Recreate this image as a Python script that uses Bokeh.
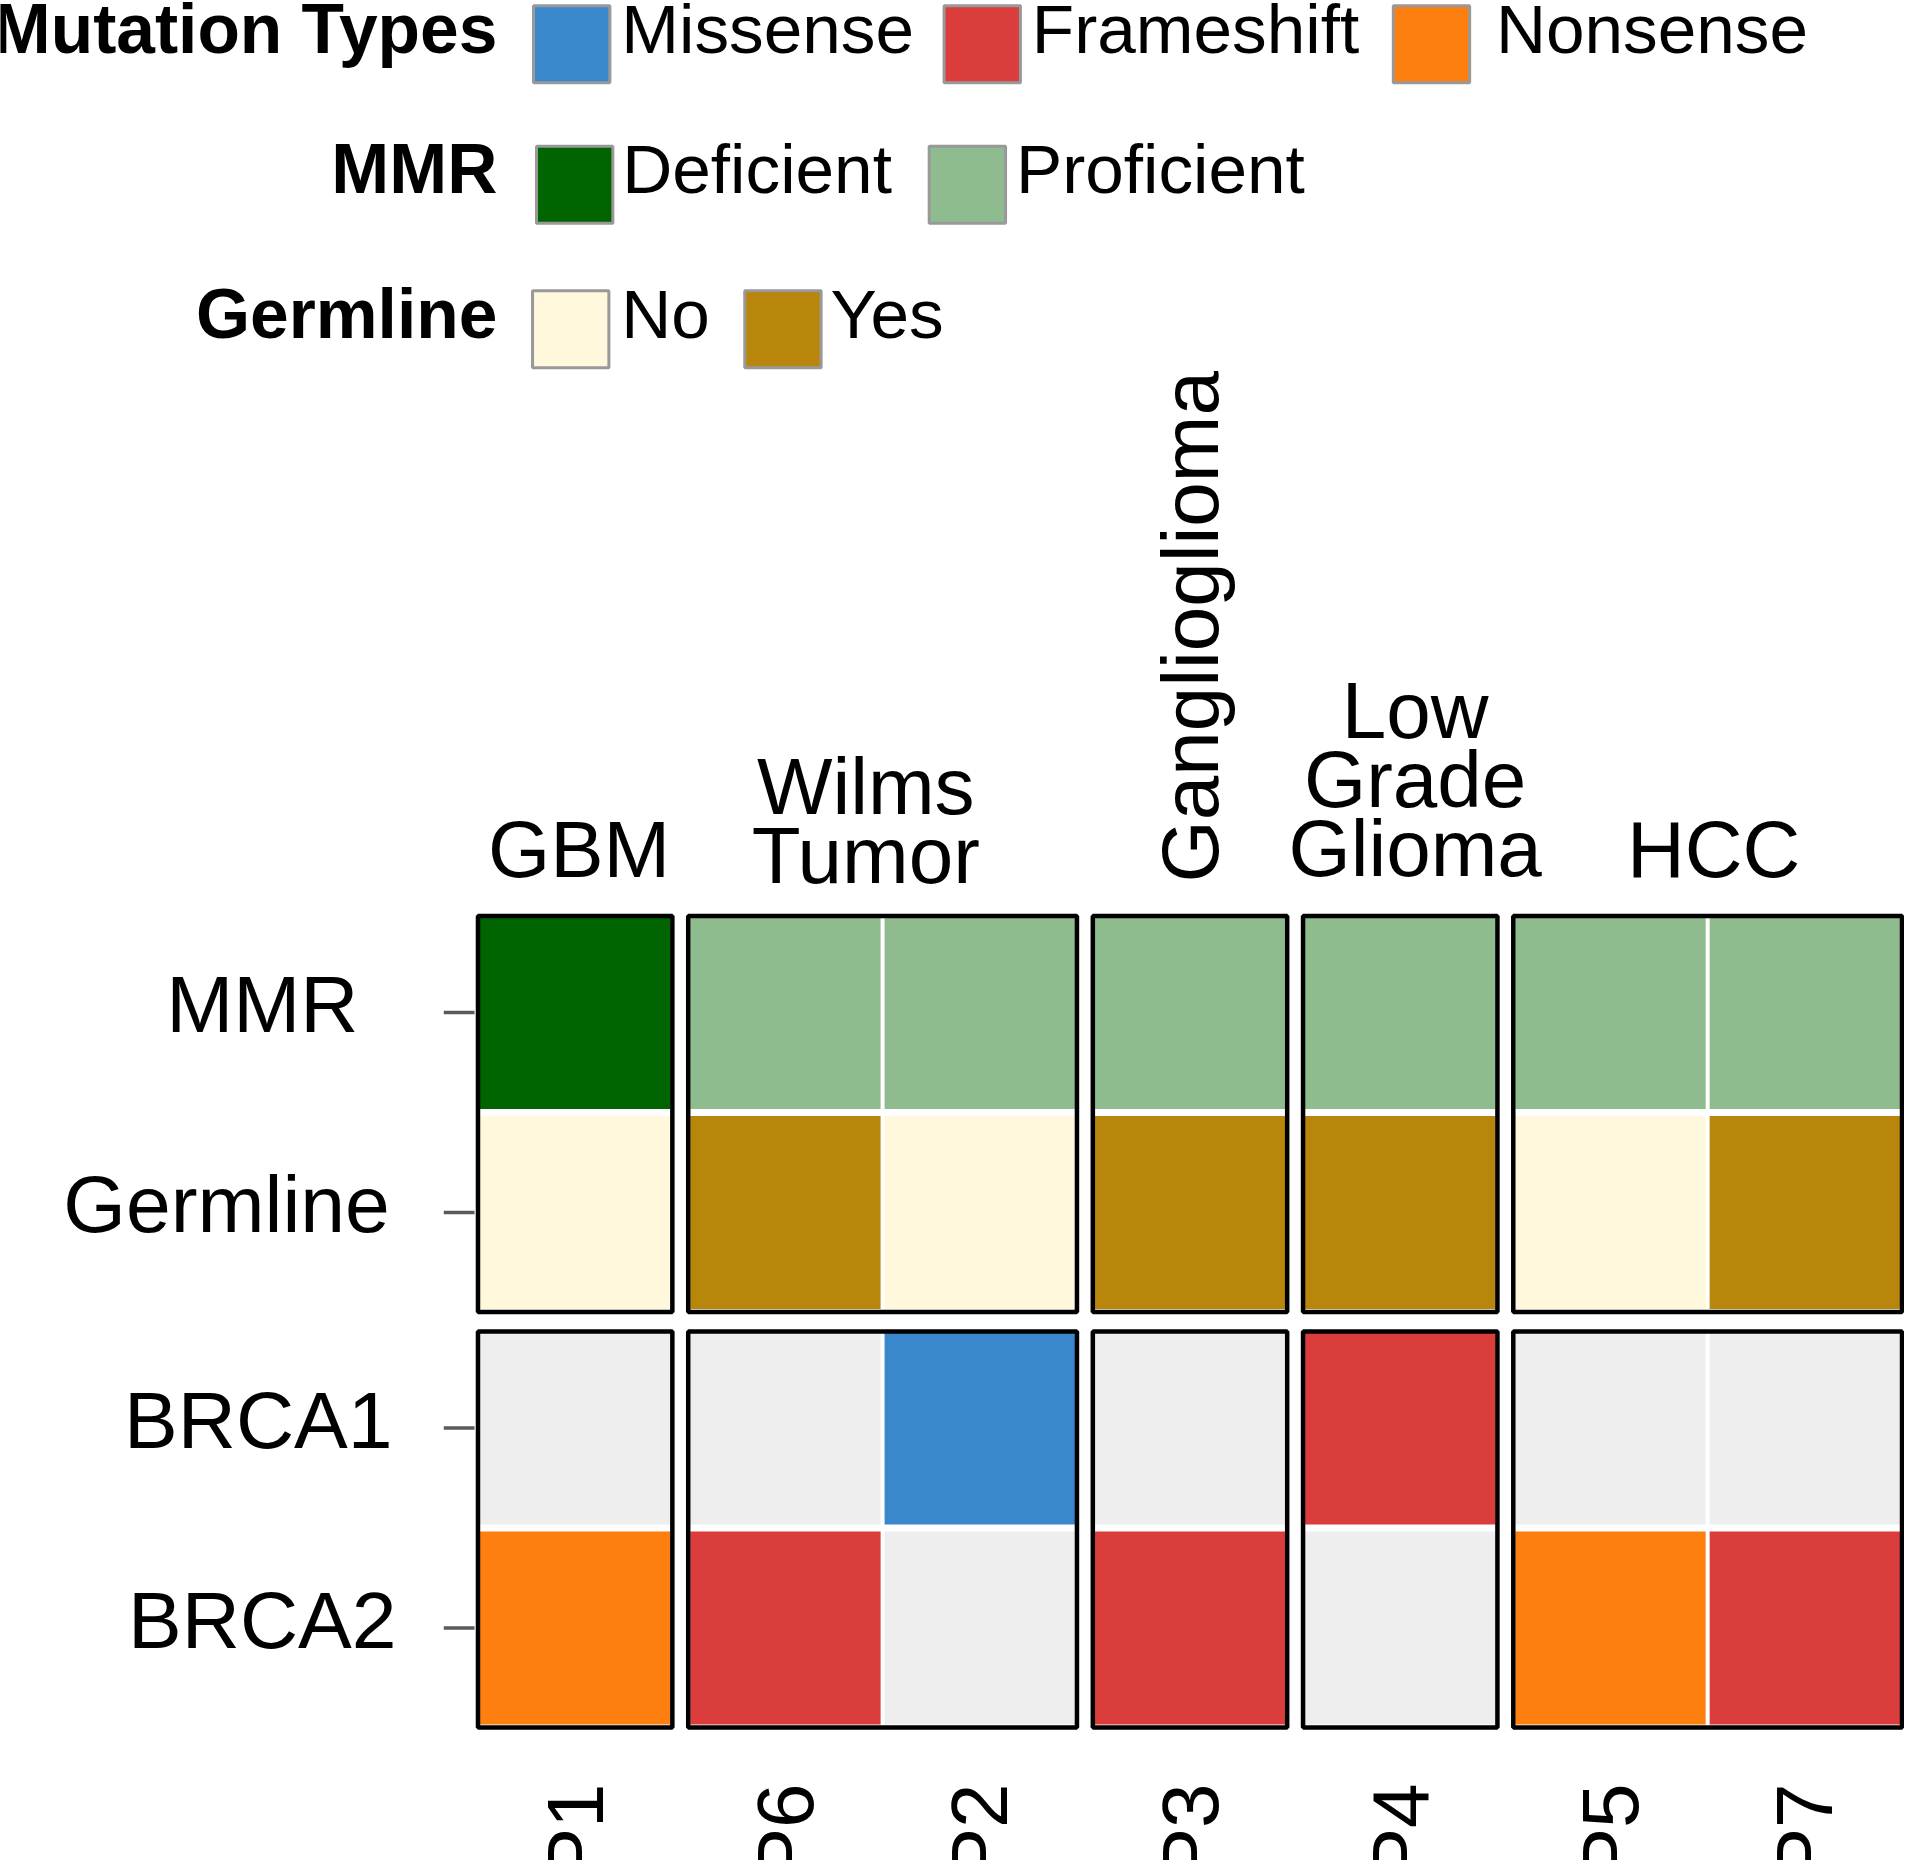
import math
from bokeh.plotting import figure
from bokeh.models import Range1d
from bokeh.core.properties import value
from bokeh.embed import file_html
from bokeh.resources import INLINE

# ---------------- data ----------------
patients = ["P1", "P6", "P2", "P3", "P4", "P5", "P7"]
patient_group = ["GBM", "Wilms Tumor", "Wilms Tumor", "Ganglioglioma",
                 "Low Grade Glioma", "HCC", "HCC"]
groups = ["GBM", "Wilms Tumor", "Ganglioglioma", "Low Grade Glioma", "HCC"]
group_labels = ["GBM", "Wilms\nTumor", "Ganglioglioma", "Low\nGrade\nGlioma", "HCC"]
track_rows = ["MMR", "Germline", "BRCA1", "BRCA2"]
track_block = [0, 0, 1, 1]
mmr_status = ["Deficient", "Proficient", "Proficient", "Proficient",
              "Proficient", "Proficient", "Proficient"]
germline_status = ["No", "Yes", "No", "Yes", "Yes", "No", "Yes"]
brca1_mutation = ["", "", "Missense", "", "Frameshift", "", ""]
brca2_mutation = ["Nonsense", "Frameshift", "", "Frameshift", "", "Nonsense", "Frameshift"]
legend_titles = ["Mutation Types", "MMR", "Germline"]
legend_items = [["Missense", "Frameshift", "Nonsense"],
                ["Deficient", "Proficient"],
                ["No", "Yes"]]

colors = {
    "Missense": "#3a88cc", "Frameshift": "#db3d3d", "Nonsense": "#fd7f0f",
    "Deficient": "#006400", "Proficient": "#8fbc8f",
    "No": "#fff8dc", "Yes": "#b8860b", "": "#eeeeee",
}

# ---------------- layout (reference pixel space) ----------------
PITCH_X, GAP_X, X0 = 196, 16, 579.5
PITCH_Y, GAP_Y, Y0 = 200, 15.5, 1012
CELL_W, CELL_H = 192, 193
BOX_H = 396
FONT = value("Liberation Sans")
MID_SHIFT = -1.5 / 80.0


def mid_anchor(baseline, size):
    # anchor for text_baseline="middle" so that the alphabetic baseline lands on `baseline`
    return baseline - 0.358 * size - MID_SHIFT * size


p = figure(width=1904, height=1860, x_range=Range1d(0, 1920), y_range=Range1d(-1860, 0),
           x_axis_type=None, y_axis_type=None, toolbar_location=None,
           output_backend="svg", min_border=0)
p.grid.visible = False
p.outline_line_color = None
p.background_fill_color = "white"

gidx = [groups.index(g) for g in patient_group]
col_x = [X0 + i * PITCH_X + gidx[i] * GAP_X for i in range(len(patients))]
row_y = [Y0 + r * PITCH_Y + track_block[r] * GAP_Y for r in range(len(track_rows))]

# cells
track_values = [mmr_status, germline_status, brca1_mutation, brca2_mutation]
cx, cy, cc = [], [], []
for r, vals in enumerate(track_values):
    for i, v in enumerate(vals):
        cx.append(col_x[i])
        cy.append(-row_y[r])
        cc.append(colors[v])
p.rect(x=cx, y=cy, width=CELL_W, height=CELL_H, fill_color=cc, line_color=None)

# group boxes
bx, by, bw = [], [], []
for g_i, g in enumerate(groups):
    members = [col_x[i] for i in range(len(patients)) if gidx[i] == g_i]
    for b in sorted(set(track_block)):
        rows_b = [row_y[r] for r in range(len(track_rows)) if track_block[r] == b]
        bx.append(sum(members) / len(members))
        bw.append(len(members) * PITCH_X)
        by.append(-(sum(rows_b) / len(rows_b) + 1.5))
p.rect(x=bx, y=by, width=bw, height=BOX_H, fill_color=None, line_color="black", line_width=4.5)

# row ticks and labels
box_left = col_x[0] - PITCH_X / 2
p.segment(x0=[box_left - 34.5] * 4, x1=[box_left - 3.5] * 4,
          y0=[-y for y in row_y], y1=[-y for y in row_y],
          line_color="#5a5a5a", line_width=3.5)
ROW_FS = 80.5
row_label_x = [264, 228, 260, 264]
p.text(x=row_label_x, y=[-mid_anchor(y + 19, ROW_FS) for y in row_y], text=track_rows,
       text_font=FONT, text_font_size=f"{ROW_FS}px", text_align="center",
       text_baseline="middle", text_color="black")

# patient labels (rotated, bottom)
p.text(x=col_x, y=[-1783] * len(patients), text=patients, angle=math.pi / 2,
       text_font=FONT, text_font_size="80px", text_align="right",
       text_baseline="middle", text_color="black")

# group labels (top)
GRP_FS = 80
group_rotated = [False, False, True, False, False]
group_dx = [4, -17, 0, 15, 6]
group_dy = [0, 6, 0, -1, 0]
LINE_H = 69
tx, ty, tt = [], [], []
for g_i, g in enumerate(groups):
    members = [col_x[i] for i in range(len(patients)) if gidx[i] == g_i]
    gx = sum(members) / len(members)
    if group_rotated[g_i]:
        p.text(x=[gx], y=[-882], text=[group_labels[g_i]], angle=math.pi / 2,
               text_font=FONT, text_font_size=f"{GRP_FS}px", text_align="left",
               text_baseline="middle", text_color="black")
        continue
    lines = group_labels[g_i].split("\n")
    n = len(lines)
    for k, ln in enumerate(lines):
        tx.append(gx + group_dx[g_i])
        ty.append(-mid_anchor(876 + group_dy[g_i] - (n - 1 - k) * LINE_H, GRP_FS))
        tt.append(ln)
p.text(x=tx, y=ty, text=tt, text_font=FONT, text_font_size=f"{GRP_FS}px",
       text_align="center", text_baseline="middle", text_color="black")

# legend
TITLE_FS, LAB_FS = 69.5, 69.3
legend_baseline = [51.7, 192.3, 336.7]
swatch_left = [[536, 950, 1403], [539, 935], [535, 749]]
label_left = [[626, 1040, 1508], [627, 1024], [626, 837]]
SW = 77
p.text(x=[501] * 3, y=[-mid_anchor(b, TITLE_FS) for b in legend_baseline], text=legend_titles,
       text_font=FONT, text_font_size=f"{TITLE_FS}px", text_font_style="bold",
       text_align="right", text_baseline="middle", text_color="black")
sx, sy, sc, lx, ly, lt = [], [], [], [], [], []
for r, items in enumerate(legend_items):
    top = legend_baseline[r] - 48
    for j, it in enumerate(items):
        sx.append(swatch_left[r][j] + 40)
        sy.append(-(top + 40))
        sc.append(colors[it])
        lx.append(label_left[r][j])
        ly.append(-mid_anchor(legend_baseline[r], LAB_FS))
        lt.append(it)
p.rect(x=sx, y=sy, width=SW, height=SW, fill_color=sc, line_color="#999999", line_width=3)
p.text(x=lx, y=ly, text=lt, text_font=FONT, text_font_size=f"{LAB_FS}px",
       text_align="left", text_baseline="middle", text_color="black")

open("out.html", "w").write(file_html(p, INLINE))
